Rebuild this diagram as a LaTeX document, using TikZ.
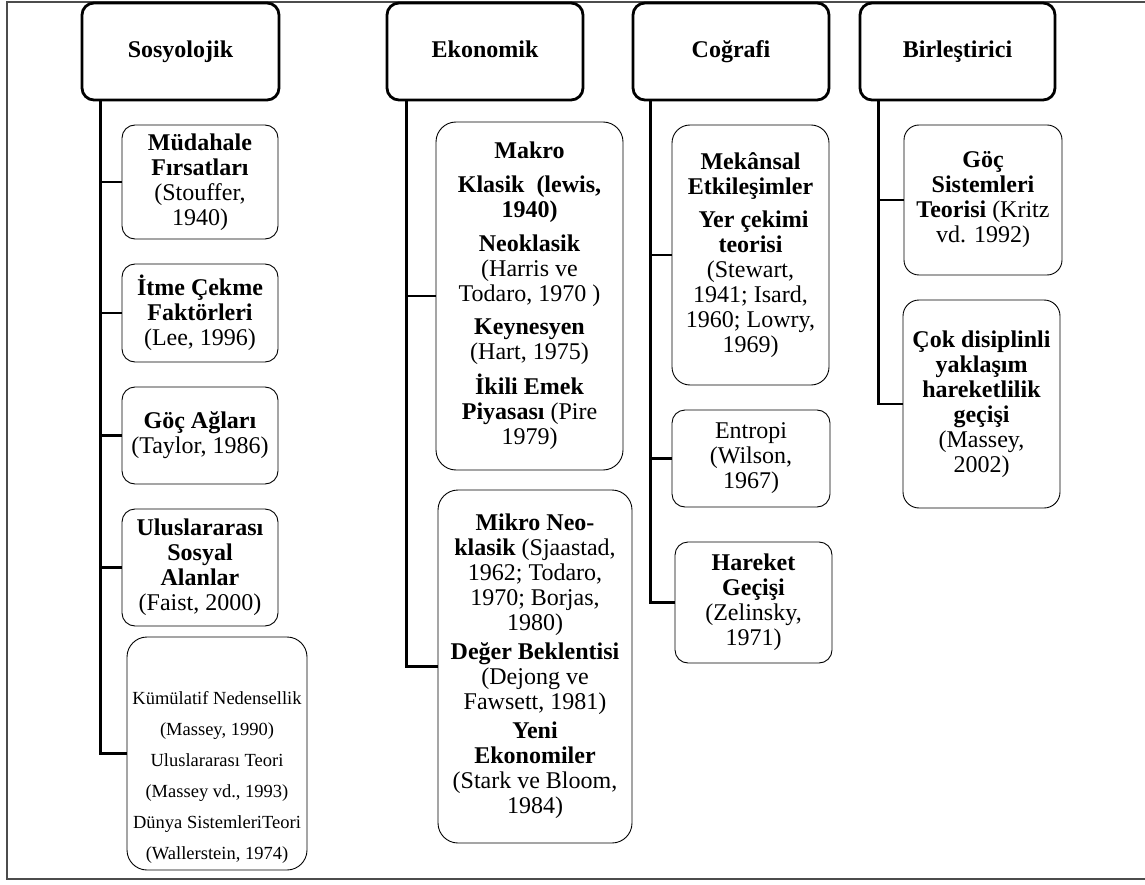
\documentclass[tikz,border=0pt]{standalone}
\usepackage{fontspec}
\setmainfont{Liberation Serif}
\begin{document}
\begin{tikzpicture}[x=1pt,y=-1pt,
  hdr/.style={draw, line width=2.8pt, rounded corners=12pt, minimum height=97pt,
    inner sep=0pt, text height=17pt, text depth=5pt,
    font=\fontsize{24}{28}\selectfont\bfseries},
  leaf/.style={draw, line width=0.9pt, rounded corners=#1, inner sep=0pt, align=center,
    font=\fontsize{24}{25}\selectfont},
  leaf/.default=13pt,
  branch/.style={line width=2.8pt},
  frame/.style={line width=1.2pt, draw=black!70}]

% page and outer frame
\useasboundingbox (0,0) rectangle (1145,885);
\draw[frame] (1150,2) -- (7,2) -- (7,879) -- (1150,879);

% column headers
\node[hdr, minimum width=197pt] (hs) at (180.5,51.5) {Sosyolojik};
\node[hdr, minimum width=196pt] (he) at (485,51.5) {Ekonomik};
\node[hdr, minimum width=196pt] (hc) at (731,51.5) {Coğrafi};
\node[hdr, minimum width=195pt] (hb) at (957.5,51.5) {Birleştirici};

% sociological theories
\node[leaf, minimum width=156pt, minimum height=114pt] (s1) at (200,182)
  {\textbf{Müdahale}\\\textbf{Fırsatları}\\(Stouffer,\\1940)};
\node[leaf, minimum width=156pt, minimum height=98pt] (s2) at (200,313)
  {\textbf{İtme Çekme}\\\textbf{Faktörleri}\\(Lee, 1996)};
\node[leaf, minimum width=156pt, minimum height=97pt] (s3) at (200,435.5)
  {\textbf{Göç Ağları}\\(Taylor, 1986)};
\node[leaf, minimum width=156pt, minimum height=117pt] (s4) at (200,567.5)
  {\textbf{Uluslararası}\\\textbf{Sosyal}\\\textbf{Alanlar}\\(Faist, 2000)};
\node[leaf=20pt, minimum width=180pt, minimum height=233pt] (s5) at (217,753.5) {};
\node[align=center, inner sep=0pt, font=\fontsize{18.5}{31}\selectfont] (s5t)
  at ([yshift=-24pt]s5.center)
  {Kümülatif Nedensellik\\(Massey, 1990)\\Uluslararası Teori\\(Massey vd., 1993)\\Dünya SistemleriTeori\\(Wallerstein, 1974)};

% economic theories
\node[leaf=20pt, minimum width=187pt, minimum height=348pt] (e1) at (529.5,296)
  {\textbf{Makro}\\[9pt]\textbf{Klasik\ \ (lewis,}\\\textbf{1940)}\\[9pt]%
   \textbf{Neoklasik}\\(Harris ve\\Todaro, 1970 )\\[8pt]%
   \textbf{Keynesyen}\\(Hart, 1975)\\[8pt]%
   \textbf{İkili Emek}\\\textbf{Piyasası} (Pire\\1979)};
\node[leaf=20pt, minimum width=194pt, minimum height=353pt] (e2) at (535,666.5)
  {\textbf{Mikro Neo-}\\\textbf{klasik} (Sjaastad,\\1962; Todaro,\\1970; Borjas,\\1980)\\[4pt]%
   \textbf{Değer Beklentisi}\\(Dejong ve\\Fawsett, 1981)\\[4pt]%
   \textbf{Yeni}\\\textbf{Ekonomiler}\\(Stark ve Bloom,\\1984)};

% geographical theories
\node[leaf=18pt, minimum width=157pt, minimum height=260pt] (c1) at (750.5,255)
  {\textbf{Mekânsal}\\\textbf{Etkileşimler}\\[8pt]\textbf{\ Yer çekimi}\\\textbf{teorisi}\\%
   (Stewart,\\1941; Isard,\\1960; Lowry,\\1969)};
\node[leaf, minimum width=158pt, minimum height=97pt] (c2) at (751,458.5)
  {Entropi\\(Wilson,\\1967)};
\node[leaf, minimum width=157pt, minimum height=121pt] (c3) at (753.5,602.5)
  {\textbf{Hareket}\\\textbf{Geçişi}\\(Zelinsky,\\1971)};

% integrative theories
\node[leaf=15pt, minimum width=158pt, minimum height=150pt] (b1) at (983,200)
  {\textbf{Göç}\\\textbf{Sistemleri}\\\textbf{Teorisi} (Kritz\\vd. 1992)};
\node[leaf=16pt, minimum width=157pt, minimum height=208pt] (b2) at (981.5,404)
  {\textbf{Çok disiplinli}\\\textbf{yaklaşım}\\\textbf{hareketlilik}\\\textbf{geçişi}\\(Massey,\\2002)};

% trunks and branches
\coordinate (ts) at ([xshift=20pt]hs.south west);
\coordinate (te) at ([xshift=21pt]he.south west);
\coordinate (tc) at ([xshift=19pt]hc.south west);
\coordinate (tb) at ([xshift=20pt]hb.south west);

\draw[branch] (ts) |- (s5.west);
\foreach \n in {s1,s2,s3,s4} \draw[branch] (\n.west -| ts) -- (\n.west);

\draw[branch] (te) |- (e2.west);
\draw[branch] (e1.west -| te) -- (e1.west);

\draw[branch] (tc) |- (c3.west);
\foreach \n in {c1,c2} \draw[branch] (\n.west -| tc) -- (\n.west);

\draw[branch] (tb) |- (b2.west);
\draw[branch] (b1.west -| tb) -- (b1.west);
\end{tikzpicture}
\end{document}
